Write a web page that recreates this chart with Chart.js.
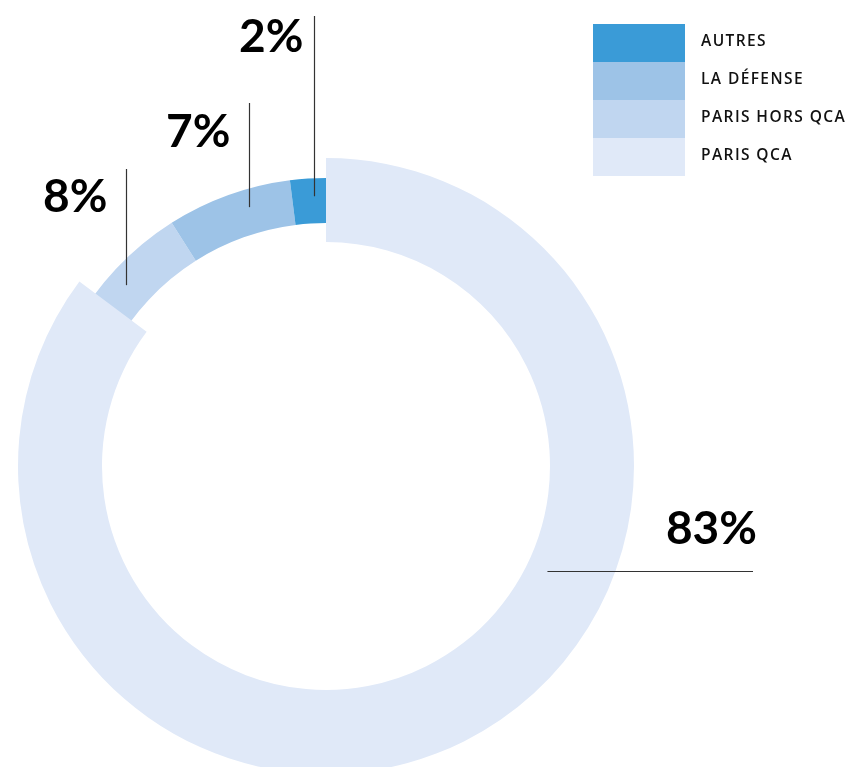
<!DOCTYPE html>
<html lang="fr">
<head>
<meta charset="utf-8">
<title>Répartition</title>
<script src="https://cdn.jsdelivr.net/npm/chart.js@4.4.0/dist/chart.umd.min.js"></script>
<style>
html, body { margin: 0; padding: 0; background: #fff; }
body { width: 852px; height: 767px; overflow: hidden; position: relative; }
#donut { position: absolute; left: 0; top: 0; }
#legend { position: absolute; left: 593px; top: 24px; margin: 0; padding: 0; list-style: none; }
#legend li { display: flex; align-items: center; height: 38px; }
#legend .sw { width: 92px; height: 38px; margin-right: 16px; }
#legend .txt { font: 600 15.5px 'Open Sans', sans-serif; letter-spacing: 1.4px; color: #111; margin-top: -7px; }
</style>
</head>
<body>
<canvas id="donut" width="852" height="767"></canvas>
<ul id="legend"></ul>
<script>
//Data (legend order)
const categories = ['AUTRES', 'LA DÉFENSE', 'PARIS HORS QCA', 'PARIS QCA'];
const shares = [2, 7, 8, 83];
const colors = ['#3a9bd7', '#9dc3e7', '#c0d6f0', '#e0e9f8'];

//clockwise from the end of QCA; QCA goes last so it is painted over its neighbour
const drawOrder = [2, 1, 0, 3];
const total = shares.reduce((a, b) => a + b, 0);

//Callout layout for the small slices (line top, text baseline, text gap)
const calloutSmall = {
    'AUTRES': { frac: 0.64, top: 16, base: 52, gap: 11 },
    'LA DÉFENSE': { frac: 0.63, top: 103, base: 147, gap: 19 },
    'PARIS HORS QCA': { frac: 0.46, top: 169, base: 212, gap: 19 }
};

//Legend
const legend = document.getElementById('legend');
categories.forEach((cat, i) => {
    const li = document.createElement('li');
    const sw = document.createElement('span');
    sw.className = 'sw';
    sw.style.background = colors[i];
    const txt = document.createElement('span');
    txt.className = 'txt';
    txt.textContent = cat;
    li.appendChild(sw);
    li.appendChild(txt);
    legend.appendChild(li);
});

//Pull the big slice out: thicker and a little longer
const bigSlice = {
    id: 'bigSlice',
    afterDatasetUpdate(chart) {
        const arcs = chart.getDatasetMeta(0).data;
        const arc = arcs[drawOrder.indexOf(3)];
        arc.innerRadius -= 19;
        arc.outerRadius += 20;
        arc.endAngle += 8 * Math.PI / 180;
        arc.circumference = arc.endAngle - arc.startAngle;
    }
};

//Percent labels with leader lines
const callouts = {
    id: 'callouts',
    afterDraw(chart) {
        const c = chart.ctx;
        const arcs = chart.getDatasetMeta(0).data;
        c.save();
        c.strokeStyle = '#333';
        c.lineWidth = 1.2;
        c.fillStyle = '#000';
        c.font = 'bold 46px Lato';
        c.textAlign = 'right';
        c.textBaseline = 'alphabetic';

        drawOrder.forEach((cat, k) => {
            const arc = arcs[k];
            const label = shares[cat] + '%';
            const cfg = calloutSmall[categories[cat]];
            if (cfg) {
                const a = arc.startAngle + cfg.frac * (arc.endAngle - arc.startAngle);
                const r = arc.innerRadius + 0.6 * (arc.outerRadius - arc.innerRadius);
                const x = Math.round(arc.x + r * Math.cos(a)) + 0.5;
                const y = arc.y + r * Math.sin(a);
                c.beginPath();
                c.moveTo(x, y);
                c.lineTo(x, cfg.top);
                c.stroke();
                c.fillText(label, x - cfg.gap, cfg.base);
            } else {
                //big slice: horizontal leader to the right
                const a = arc.startAngle + 0.386 * (2 * Math.PI * shares[cat] / total);
                const r = arc.innerRadius + 21;
                const x = arc.x + r * Math.cos(a);
                const y = Math.round(arc.y + r * Math.sin(a)) + 0.5;
                c.beginPath();
                c.moveTo(x, y);
                c.lineTo(753, y);
                c.stroke();
                c.fillText(label, 757, y - 28);
            }
        });
        c.restore();
    }
};

new Chart(document.getElementById('donut'), {
    type: 'doughnut',
    data: {
        labels: drawOrder.map(i => categories[i]),
        datasets: [{
            data: drawOrder.map(i => shares[i]),
            backgroundColor: drawOrder.map(i => colors[i]),
            borderWidth: 0,
            hoverBorderWidth: 0,
            offset: 0,
            hoverOffset: 0,
            clip: false
        }]
    },
    options: {
        responsive: false,
        animation: false,
        events: [],
        rotation: 360 * shares[3] / total,
        cutout: '84.375%',
        layout: { padding: { left: 38, top: 178, right: 238, bottom: 13 } },
        plugins: {
            legend: { display: false },
            tooltip: { enabled: false }
        }
    },
    plugins: [bigSlice, callouts]
});
</script>
</body>
</html>
